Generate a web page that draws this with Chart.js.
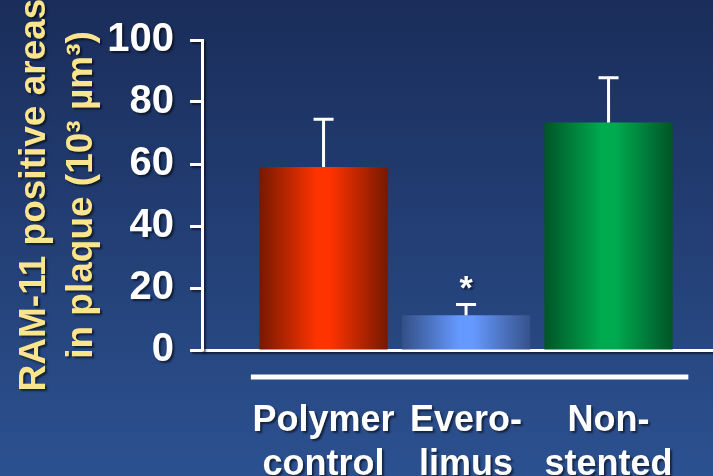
<!DOCTYPE html>
<html>
<head>
<meta charset="utf-8">
<script src="https://cdn.jsdelivr.net/npm/chart.js@4.4.0/dist/chart.umd.min.js"></script>
<style>
  html, body { margin: 0; padding: 0; background: #243f78; }
</style>
</head>
<body>
<canvas id="ramChart" width="713" height="476"></canvas>
<script>
const categories = [['Polymer', 'control'], ['Evero-', 'limus'], ['Non-', 'stented']];
const values = [59, 11.2, 73.4];
const errors = [15.4, 3.5, 14.4];
const marks = ['', '*', ''];
const yTicks = [0, 20, 40, 60, 80, 100];
const yTitle = ['RAM-11 positive areas', 'in plaque (10\u00B3 \u00B5m\u00B3)'];

// edge, middle, edge colours for the cylinder look
const barStops = [
  ['#761900', '#ff3300', '#761900'],
  ['#334f86', '#6699ff', '#36528a'],
  ['#005526', '#00ab50', '#005426'],
];

const FONT = "'Liberation Sans', Arial, sans-serif";

const setShadow = (ctx, on) => {
  ctx.shadowColor = on ? 'rgba(0,0,0,0.55)' : 'rgba(0,0,0,0)';
  ctx.shadowOffsetX = on ? 2 : 0;
  ctx.shadowOffsetY = on ? 2 : 0;
  ctx.shadowBlur = on ? 2 : 0;
};

const backdrop = {
  id: 'backdrop',
  beforeDraw(chart) {
    const { ctx, width, height } = chart;
    const g = ctx.createLinearGradient(0, 0, 0, height);
    g.addColorStop(0, '#1a2d5a');
    g.addColorStop(1, '#2c5190');
    ctx.save();
    ctx.fillStyle = g;
    ctx.fillRect(0, 0, width, height);
    ctx.restore();
    setShadow(ctx, true);
  },
  beforeDatasetsDraw(chart) {
    setShadow(chart.ctx, false);
  },
};

const extras = {
  id: 'extras',
  afterDatasetsDraw(chart) {
    const { ctx, chartArea, scales: { x, y } } = chart;
    ctx.save();
    ctx.strokeStyle = '#ffffff';
    ctx.fillStyle = '#ffffff';
    ctx.lineWidth = 3;
    values.forEach((v, i) => {
      const cx = x.getPixelForValue(i);
      const base = y.getPixelForValue(v);
      const top = y.getPixelForValue(v + errors[i]);
      ctx.beginPath();
      ctx.moveTo(cx, base);
      ctx.lineTo(cx, top);
      ctx.moveTo(cx - 10, top);
      ctx.lineTo(cx + 10, top);
      ctx.stroke();
      if (marks[i]) {
        setShadow(ctx, true);
        ctx.font = 'bold 34px ' + FONT;
        ctx.textAlign = 'center';
        ctx.textBaseline = 'alphabetic';
        ctx.fillText(marks[i], cx, top - 5);
        setShadow(ctx, false);
      }
    });
    // rule under the axis, above the group labels
    ctx.lineWidth = 5;
    ctx.beginPath();
    ctx.moveTo(x.getPixelForValue(-0.51), chartArea.bottom + 27);
    ctx.lineTo(x.getPixelForValue(2.56), chartArea.bottom + 27);
    ctx.stroke();
    ctx.restore();
    setShadow(ctx, true);
  },
};

new Chart(document.getElementById('ramChart'), {
  type: 'bar',
  data: {
    datasets: [{
      data: values.map((v, i) => ({ x: i, y: v })),
      backgroundColor: (c) => {
        const i = c.dataIndex || 0;
        const xs = c.chart.scales.x;
        if (!xs || !c.chart.chartArea) return barStops[i][1];
        const cx = xs.getPixelForValue(i);
        const half = (xs.getPixelForValue(1) - xs.getPixelForValue(0)) * 0.45;
        const g = c.chart.ctx.createLinearGradient(cx - half, 0, cx + half, 0);
        g.addColorStop(0, barStops[i][0]);
        g.addColorStop(0.45, barStops[i][1]);
        g.addColorStop(0.55, barStops[i][1]);
        g.addColorStop(1, barStops[i][2]);
        return g;
      },
      borderWidth: 0,
      barPercentage: 0.9,
      categoryPercentage: 1,
    }],
  },
  options: {
    responsive: false,
    animation: false,
    devicePixelRatio: 1,
    layout: { padding: { top: 38, right: 0, bottom: 0, left: 0 } },
    plugins: { legend: { display: false }, tooltip: { enabled: false } },
    scales: {
      x: {
        type: 'linear',
        min: -0.853,
        max: 2.733,
        offset: false,
        z: 1,
        grid: { display: false, offset: false },
        border: { display: true, color: '#ffffff', width: 3 },
        afterBuildTicks: (s) => { s.ticks = categories.map((c, i) => ({ value: i })); },
        afterFit: (s) => { s.height = 126; s.paddingLeft = 0; s.paddingRight = 0; },
        ticks: {
          autoSkip: false,
          maxRotation: 0,
          padding: 41,
          color: '#ffffff',
          font: { family: FONT, size: 36, weight: 'bold', lineHeight: 1.22 },
          callback: (v) => categories[v],
        },
      },
      y: {
        min: 0,
        max: 100,
        afterBuildTicks: (s) => { s.ticks = yTicks.map((v) => ({ value: v })); },
        afterFit: (s) => { s.width = 202; },
        grid: {
          display: true,
          drawOnChartArea: false,
          drawTicks: true,
          tickLength: 12,
          tickWidth: 3,
          tickColor: '#ffffff',
        },
        border: { display: true, color: '#ffffff', width: 3 },
        ticks: {
          padding: 16,
          color: '#ffffff',
          font: { family: FONT, size: 40, weight: 'bold' },
        },
        title: {
          display: true,
          text: yTitle,
          color: '#fbe58c',
          padding: { top: 12, bottom: 0 },
          font: { family: FONT, size: 37, weight: 'bold', lineHeight: 1.25 },
        },
      },
    },
  },
  plugins: [backdrop, extras],
});
</script>
</body>
</html>
